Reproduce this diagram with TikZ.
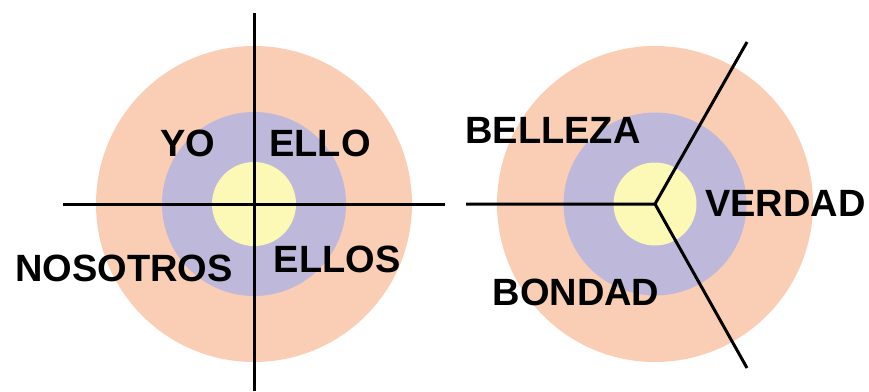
\documentclass[tikz,border=0pt]{standalone}
\usepackage{fontspec}
\setmainfont{Liberation Sans}
\definecolor{peach}{HTML}{FACEB5}
\definecolor{lilac}{HTML}{BEB8DA}
\definecolor{cream}{HTML}{FCF9B6}
\begin{document}
\begin{tikzpicture}[x=1pt, y=-1pt,
    every node/.style={font=\fontsize{38}{40}\selectfont\bfseries, inner sep=0pt},
    axis/.style={line width=3pt, black}]
    \useasboundingbox (0,0) rectangle (869,391);

    % left target
    \coordinate (lc) at (254,204);
    \fill[peach] (lc) circle (158pt);
    \fill[lilac] (lc) circle (92pt);
    \fill[cream] (lc) circle (42pt);

    \coordinate (ltop) at (254,13);
    \coordinate (lbot) at (254,391);
    \coordinate (lleft) at (63,204);
    \coordinate (lright) at (445,204);
    \draw[axis] (ltop) -- (lbot);
    \draw[axis] (lleft) -- (lright);

    \node (yo) at (188,143) {YO};
    \node (ello) at (320,143) {ELLO};
    \node (nosotros) at (124,268.5) {NOSOTROS};
    \node (ellos) at (337,259) {ELLOS};

    % right target
    \coordinate (rc) at (655,204);
    \fill[peach] (rc) circle (158pt);
    \fill[lilac] (rc) circle (91.5pt);
    \fill[cream] (rc) circle (41.5pt);

    \coordinate (rleft) at (466,204);
    \coordinate (rup) at (747,42);
    \coordinate (rdown) at (747,368);
    \draw[axis] (rleft) -- (rc) -- (rup);
    \draw[axis] (rc) -- (rdown);

    \node (belleza) at (553,130) {BELLEZA};
    \node (verdad) at (785.5,203.5) {VERDAD};
    \node (bondad) at (576,292) {BONDAD};
\end{tikzpicture}
\end{document}
